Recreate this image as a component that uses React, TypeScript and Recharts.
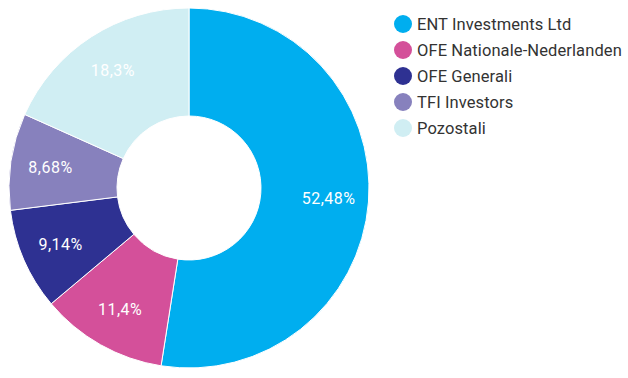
import React from 'react';
import { PieChart, Pie, Cell, Legend } from 'recharts';

const names = ['ENT Investments Ltd', 'OFE Nationale-Nederlanden', 'OFE Generali', 'TFI Investors', 'Pozostali'];
const shares = [52.48, 11.4, 9.14, 8.68, 18.3];
const colors = ['#00AEEF', '#D4509A', '#2E3192', '#8781BD', '#D0EEF3'];

const data = names.map((name, i) => ({ name, value: shares[i] }));

const RADIAN = Math.PI / 180;
const FONT = "Roboto, 'Open Sans', sans-serif";

const renderLabel = (props: any) => {
  const { cx, cy, midAngle, innerRadius, outerRadius, value } = props;
  const r = innerRadius + (outerRadius - innerRadius) * 0.63;
  const x = cx + r * Math.cos(-midAngle * RADIAN);
  const y = cy + r * Math.sin(-midAngle * RADIAN);
  return (
    <text x={x} y={y} fill="#ffffff" fontSize={16} letterSpacing={0.5} fontFamily={FONT} textAnchor="middle" dominantBaseline="central">
      {String(value).replace('.', ',') + '%'}
    </text>
  );
};

const renderLegend = () => (
  <ul style={{ listStyle: 'none', margin: 0, padding: 0, fontFamily: FONT, fontSize: 16.5, letterSpacing: 0.1, color: '#333333' }}>
    {names.map((n, i) => (
      <li key={n} style={{ display: 'flex', alignItems: 'center', height: 26, whiteSpace: 'nowrap' }}>
        <span style={{ width: 18, height: 18, borderRadius: '50%', background: colors[i], display: 'inline-block', marginRight: 5, flexShrink: 0 }} />
        {n}
      </li>
    ))}
  </ul>
);

const App: React.FC = () => {
  return (
    <div style={{ position: 'fixed', left: 0, top: 0, width: 628, height: 378, background: '#fff' }}>
      <PieChart width={628} height={378} margin={{ top: 0, right: 0, bottom: 0, left: 0 }}>
        <Pie
          data={data}
          dataKey="value"
          nameKey="name"
          cx={189}
          cy={188}
          innerRadius={72}
          outerRadius={180}
          startAngle={90}
          endAngle={-270}
          stroke="#ffffff"
          strokeWidth={1}
          label={renderLabel}
          labelLine={false}
          isAnimationActive={false}
        >
          {data.map((d, i) => (
            <Cell key={d.name} fill={colors[i]} />
          ))}
        </Pie>
        <Legend content={renderLegend} wrapperStyle={{ position: 'absolute', left: 394, top: 11, width: 234 }} />
      </PieChart>
    </div>
  );
};

export default App;
